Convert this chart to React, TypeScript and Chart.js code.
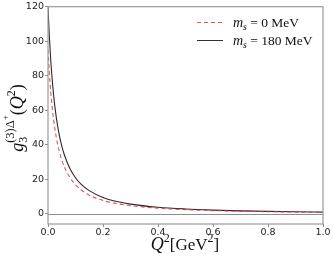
import React, { useEffect, useRef } from "react";
import { Chart, registerables } from "chart.js";

Chart.register(...registerables);

const qValues = [0, 0.005, 0.01, 0.02, 0.03, 0.04, 0.05, 0.06, 0.08, 0.1, 0.12, 0.15, 0.2, 0.25, 0.3, 0.4, 0.5, 0.6, 0.7, 0.8, 0.9, 1.0];
const ms180Values = [120, 102.6, 89, 69.4, 56.1, 46.5, 39.4, 34.0, 26.2, 21.0, 17.3, 13.5, 9.56, 7.24, 5.73, 3.91, 2.89, 2.24, 1.81, 1.5, 1.26, 1.09];
const ms0Values = [95, 81.5, 70.5, 55, 44.5, 37, 31.3, 27.1, 21, 16.9, 14, 10.9, 7.8, 6.0, 4.8, 3.35, 2.5, 1.96, 1.6, 1.33, 1.12, 0.97];
const yTicks = [0, 20, 40, 60, 80, 100, 120];
const xTicks = [0, 0.2, 0.4, 0.6, 0.8, 1.0];
const legendLabels = ["0", "180"];

const SERIF = "'Liberation Serif', 'DejaVu Serif', serif";

type Piece = { text: string; font: string; dy: number; overlay?: { text: string; font: string; dy: number }[] };

function drawPieces(ctx: CanvasRenderingContext2D, pieces: Piece[], startX: number, baseY: number, measureOnly = false): number {
  let x = startX;
  for (const p of pieces) {
    ctx.font = p.font;
    const w = ctx.measureText(p.text).width;
    if (!measureOnly) ctx.fillText(p.text, x, baseY + p.dy);
    let adv = w;
    if (p.overlay) {
      let ox = x;
      let total = 0;
      for (const o of p.overlay) {
        ctx.font = o.font;
        const ow = ctx.measureText(o.text).width;
        if (!measureOnly) ctx.fillText(o.text, ox, baseY + o.dy);
        ox += ow;
        total += ow;
      }
      adv = Math.max(adv, total);
    }
    x += adv;
  }
  return x - startX;
}

const decorPlugin = {
  id: "decor",
  beforeDatasetsDraw(chart: any) {
    const { ctx, chartArea, scales } = chart;
    ctx.save();
    const y0 = scales.y.getPixelForValue(0);
    ctx.strokeStyle = "#8c8c8c";
    ctx.lineWidth = 1;
    ctx.beginPath();
    ctx.moveTo(chartArea.left, Math.round(y0) + 0.5);
    ctx.lineTo(chartArea.right, Math.round(y0) + 0.5);
    ctx.stroke();
    ctx.restore();
  },
  afterDraw(chart: any) {
    const { ctx, chartArea } = chart;
    ctx.save();
    ctx.strokeStyle = "#9a9a9a";
    ctx.lineWidth = 1.2;
    ctx.strokeRect(chartArea.left, chartArea.top, chartArea.right - chartArea.left, chartArea.bottom - chartArea.top);

    ctx.fillStyle = "#111";
    ctx.textBaseline = "alphabetic";
    ctx.textAlign = "left";

    // x-axis title: Q^2 [GeV^2]
    const xPieces: Piece[] = [
      { text: "Q", font: `italic 18px ${SERIF}`, dy: 0 },
      { text: "2", font: `12px ${SERIF}`, dy: -8 },
      { text: "[GeV", font: `17px ${SERIF}`, dy: 0 },
      { text: "2", font: `12px ${SERIF}`, dy: -8 },
      { text: "]", font: `17px ${SERIF}`, dy: 0 },
    ];
    const xw = drawPieces(ctx, xPieces, 0, 0, true);
    drawPieces(ctx, xPieces, 185 - xw / 2, 250);

    // y-axis title: g_3^{(3)Δ+}(Q^2)
    const yPieces: Piece[] = [
      { text: "g", font: `italic 18px ${SERIF}`, dy: 0 },
      {
        text: "3",
        font: `12px ${SERIF}`,
        dy: 4,
        overlay: [
          { text: "(3)Δ", font: `12.5px ${SERIF}`, dy: -9 },
          { text: "+", font: `9px ${SERIF}`, dy: -15 },
        ],
      },
      { text: "(", font: `18px ${SERIF}`, dy: 0 },
      { text: "Q", font: `italic 18px ${SERIF}`, dy: 0 },
      { text: "2", font: `12px ${SERIF}`, dy: -8 },
      { text: ")", font: `18px ${SERIF}`, dy: 0 },
    ];
    const yw = drawPieces(ctx, yPieces, 0, 0, true);
    ctx.save();
    ctx.translate(23, 118);
    ctx.rotate(-Math.PI / 2);
    drawPieces(ctx, yPieces, -yw / 2, 0);
    ctx.restore();

    // legend
    const legendRows = [
      { y: 22.5, color: "rgba(225,50,50,0.85)", dash: [4, 3], label: legendLabels[0] },
      { y: 40.5, color: "#333", dash: [], label: legendLabels[1] },
    ];
    for (const r of legendRows) {
      ctx.save();
      ctx.strokeStyle = r.color;
      ctx.lineWidth = 1;
      ctx.setLineDash(r.dash);
      ctx.beginPath();
      ctx.moveTo(197, r.y);
      ctx.lineTo(223, r.y);
      ctx.stroke();
      ctx.restore();
      const lp: Piece[] = [
        { text: "m", font: `italic 14px ${SERIF}`, dy: 0 },
        { text: "s", font: `italic 9.5px ${SERIF}`, dy: 2.5 },
        { text: " = " + r.label + " MeV", font: `13.5px ${SERIF}`, dy: 0 },
      ];
      drawPieces(ctx, lp, 233, r.y + 4.5);
    }
    ctx.restore();
  },
};

export default function App() {
  const ref = useRef<HTMLCanvasElement | null>(null);
  useEffect(() => {
    document.body.style.margin = "0";
    const canvas = ref.current;
    if (!canvas) return;
    const chart = new Chart(canvas, {
      type: "line",
      data: {
        datasets: [
          {
            label: "ms = 0 MeV",
            data: qValues.map((q, i) => ({ x: q, y: ms0Values[i] })),
            borderColor: "rgba(225,50,50,0.85)",
            borderWidth: 1.1,
            borderDash: [4, 3],
            pointRadius: 0,
            cubicInterpolationMode: "monotone",
            fill: false,
          },
          {
            label: "ms = 180 MeV",
            data: qValues.map((q, i) => ({ x: q, y: ms180Values[i] })),
            borderColor: "#2a2a2a",
            borderWidth: 1.1,
            pointRadius: 0,
            cubicInterpolationMode: "monotone",
            fill: false,
          },
        ],
      },
      options: {
        animation: false,
        responsive: false,
        devicePixelRatio: 1,
        layout: { padding: { top: 5, right: 10, left: 0, bottom: 0 } },
        plugins: { legend: { display: false }, tooltip: { enabled: false } },
        scales: {
          x: {
            type: "linear",
            min: 0,
            max: 1,
            afterBuildTicks: (s: any) => {
              s.ticks = xTicks.map((v) => ({ value: v }));
            },
            afterFit: (s: any) => {
              s.height = 34;
            },
            grid: { display: true, drawOnChartArea: false, drawTicks: true, tickLength: 3, color: "#8c8c8c" },
            border: { display: false },
            ticks: {
              padding: 0,
              color: "#222",
              font: { family: "'DejaVu Sans', sans-serif", size: 9.5 },
              maxRotation: 0,
              callback: (v: any) => Number(v).toFixed(1),
            },
          },
          y: {
            type: "linear",
            min: -5.8,
            max: 120,
            afterBuildTicks: (s: any) => {
              s.ticks = yTicks.map((v) => ({ value: v }));
            },
            afterFit: (s: any) => {
              s.width = 48;
            },
            grid: { display: true, drawOnChartArea: false, drawTicks: true, tickLength: 3, color: "#8c8c8c" },
            border: { display: false },
            ticks: {
              padding: 1,
              color: "#222",
              font: { family: "'DejaVu Sans', sans-serif", size: 9.5 },
              callback: (v: any) => String(v),
            },
          },
        },
      },
      plugins: [decorPlugin],
    } as any);
    return () => chart.destroy();
  }, []);
  return <canvas ref={ref} width={333} height={258} style={{ display: "block", width: 333, height: 258 }} />;
}
